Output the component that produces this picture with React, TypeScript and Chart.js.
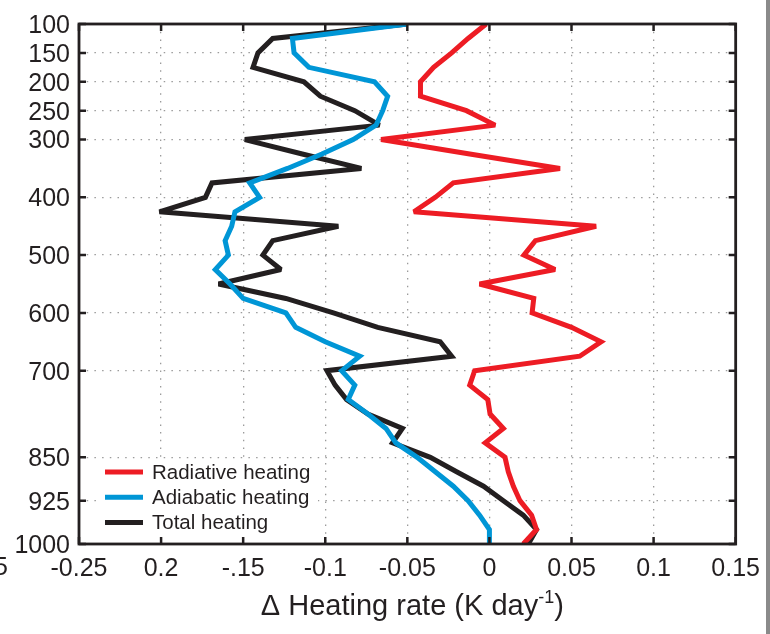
import React, { useEffect, useRef } from 'react';
import { Chart, registerables } from 'chart.js';

Chart.register(...registerables);

const pressureLevels = [
  100, 125, 150, 175, 200, 225, 250, 275, 300, 325, 350, 375, 400, 425, 450, 475, 500, 525, 550,
  575, 600, 625, 650, 675, 700, 725, 750, 775, 800, 825, 850, 875, 900, 925, 950, 975, 1000,
];

const radiativeHeating = [
  -0.002, -0.013, -0.023, -0.034, -0.042, -0.042, -0.014, 0.0035, -0.066, -0.012, 0.043, -0.022,
  -0.033, -0.046, 0.065, 0.028, 0.021, 0.04, -0.006, 0.027, 0.026, 0.05, 0.068, 0.055, -0.009,
  -0.012, -0.001, 0.0004, 0.0085, -0.0026, 0.0095, 0.0115, 0.0146, 0.0186, 0.0257, 0.0287, 0.0206,
];

const adiabaticHeating = [
  -0.05, -0.12, -0.119, -0.11, -0.07, -0.062, -0.065, -0.069, -0.083, -0.102, -0.123, -0.146,
  -0.14, -0.155, -0.157, -0.161, -0.159, -0.167, -0.158, -0.15, -0.124, -0.118, -0.1, -0.079,
  -0.09, -0.082, -0.086, -0.074, -0.063, -0.057, -0.044, -0.033, -0.022, -0.013, -0.006, 0.0, 0.0,
];

const totalHeating = [
  -0.05, -0.132, -0.141, -0.144, -0.113, -0.103, -0.082, -0.067, -0.149, -0.114, -0.078, -0.169,
  -0.173, -0.201, -0.092, -0.132, -0.138, -0.127, -0.165, -0.124, -0.095, -0.068, -0.03, -0.023,
  -0.099, -0.094, -0.087, -0.074, -0.053, -0.059, -0.036, -0.02, -0.0036, 0.0085, 0.0206, 0.0287,
  0.0237,
];

const xTickValues = [-0.25, -0.2, -0.15, -0.1, -0.05, 0, 0.05, 0.1, 0.15];
const xTickLabels = ['-0.25', '0.2', '-.15', '-0.1', '-0.05', '0', '0.05', '0.1', '0.15'];
const yTickValues = [100, 150, 200, 250, 300, 400, 500, 600, 700, 850, 925, 1000];

const seriesNames = ['Radiative heating', 'Adiabatic heating', 'Total heating'];
const seriesColors = ['#ED1C24', '#0096D6', '#231F20'];
const seriesValues = [radiativeHeating, adiabaticHeating, totalHeating];

const xTitleMain = 'Δ Heating rate (K day';
const xTitleSup = '-1';
const xTitleEnd = ')';

const FONT = '"Liberation Sans", Arial, Helvetica, sans-serif';
const INK = '#231F20';

const decorPlugin = {
  id: 'decor',
  beforeDatasetsDraw(chart: any) {
    chart.ctx.miterLimit = 2.2;
  },
  afterDatasetsDraw(chart: any) {
    const { ctx, chartArea, scales } = chart;
    const { left, right, top, bottom } = chartArea;
    const xs = scales.x;
    const ys = scales.y;
    ctx.save();

    // legend box
    const lgLeft = left + 18;
    const lgTop = bottom - 84;
    ctx.fillStyle = '#ffffff';
    ctx.fillRect(lgLeft, lgTop, 221, 82);
    ctx.font = `20.5px ${FONT}`;
    ctx.textBaseline = 'middle';
    ctx.textAlign = 'left';
    chart.data.datasets.forEach((ds: any, i: number) => {
      const yy = lgTop + 12 + i * 25.3;
      ctx.strokeStyle = ds.borderColor;
      ctx.lineWidth = 5;
      ctx.lineCap = 'butt';
      ctx.beginPath();
      ctx.moveTo(lgLeft + 8, yy);
      ctx.lineTo(lgLeft + 46, yy);
      ctx.stroke();
      ctx.fillStyle = INK;
      ctx.fillText(ds.label, lgLeft + 55, yy + 1);
    });

    // frame + inward ticks
    ctx.strokeStyle = INK;
    ctx.lineWidth = 2.5;
    ctx.beginPath();
    xTickValues.forEach((v) => {
      const px = xs.getPixelForValue(v);
      ctx.moveTo(px, bottom);
      ctx.lineTo(px, bottom - 7);
      ctx.moveTo(px, top);
      ctx.lineTo(px, top + 7);
    });
    yTickValues.forEach((v) => {
      const py = ys.getPixelForValue(v);
      ctx.moveTo(left, py);
      ctx.lineTo(left + 7, py);
      ctx.moveTo(right, py);
      ctx.lineTo(right - 7, py);
    });
    ctx.stroke();
    ctx.lineWidth = 2.8;
    ctx.strokeRect(left, top, right - left, bottom - top);

    // x-axis title
    const cx = (left + right) / 2 + 5;
    const base = bottom + 71;
    ctx.fillStyle = INK;
    ctx.textBaseline = 'alphabetic';
    ctx.font = `29px ${FONT}`;
    const w1 = ctx.measureText(xTitleMain).width;
    const w3 = ctx.measureText(xTitleEnd).width;
    ctx.font = `18px ${FONT}`;
    const w2 = ctx.measureText(xTitleSup).width;
    let sx = cx - (w1 + w2 + w3) / 2;
    ctx.font = `29px ${FONT}`;
    ctx.fillText(xTitleMain, sx, base);
    sx += w1;
    ctx.font = `18px ${FONT}`;
    ctx.fillText(xTitleSup, sx, base - 12);
    sx += w2;
    ctx.font = `29px ${FONT}`;
    ctx.fillText(xTitleEnd, sx, base);

    // stray cut-off label fragment at the left edge
    ctx.font = `25px ${FONT}`;
    ctx.textBaseline = 'middle';
    ctx.textAlign = 'left';
    ctx.fillText('5', -6, bottom + 24);

    // right border of the image
    ctx.fillStyle = '#8a8a8a';
    ctx.fillRect(chart.width - 4, 0, 4, chart.height);
    ctx.restore();
  },
};

export default function App() {
  const ref = useRef<HTMLCanvasElement | null>(null);

  useEffect(() => {
    if (!ref.current) return;
    const chart = new Chart(ref.current, {
      type: 'scatter',
      data: {
        datasets: seriesValues.map((vals, i) => ({
          label: seriesNames[i],
          data: vals.map((v, j) => ({ x: v, y: pressureLevels[j] })),
          showLine: true,
          borderColor: seriesColors[i],
          backgroundColor: seriesColors[i],
          borderWidth: 5,
          pointRadius: 0,
          pointHoverRadius: 0,
          tension: 0,
          fill: false,
          borderJoinStyle: 'miter' as const,
        })),
      },
      options: {
        animation: false,
        responsive: false,
        maintainAspectRatio: false,
        layout: { padding: { left: 0, right: 30, top: 23, bottom: 0 } },
        plugins: {
          legend: { display: false },
          tooltip: { enabled: false },
        },
        scales: {
          x: {
            type: 'linear',
            min: -0.25,
            max: 0.15,
            afterBuildTicks: (s: any) => {
              s.ticks = xTickValues.map((v) => ({ value: v }));
            },
            afterFit: (s: any) => {
              s.height = 90;
            },
            ticks: {
              autoSkip: false,
              maxRotation: 0,
              padding: 10,
              color: INK,
              font: { family: FONT, size: 25 },
              callback: (_v: any, i: number) => xTickLabels[i],
            },
            grid: { color: '#9b9b9b', lineWidth: 1.3, drawTicks: false, tickLength: 0 },
            border: { display: false, dash: [1.5, 6.2] },
          },
          y: {
            type: 'linear',
            reverse: true,
            min: 100,
            max: 1000,
            afterBuildTicks: (s: any) => {
              s.ticks = yTickValues.map((v) => ({ value: v }));
            },
            afterFit: (s: any) => {
              s.width = 79;
            },
            ticks: {
              autoSkip: false,
              padding: 9,
              labelOffset: 2,
              color: INK,
              font: { family: FONT, size: 25 },
              callback: (v: any) => String(v),
            },
            grid: { color: '#9b9b9b', lineWidth: 1.3, drawTicks: false, tickLength: 0 },
            border: { display: false, dash: [1.5, 6.2] },
          },
        },
      },
      plugins: [decorPlugin],
    } as any);
    return () => chart.destroy();
  }, []);

  return (
    <div style={{ position: 'fixed', left: 0, top: 0, width: 770, height: 634, background: '#fff' }}>
      <canvas ref={ref} width={770} height={634} style={{ display: 'block', width: 770, height: 634 }} />
    </div>
  );
}
